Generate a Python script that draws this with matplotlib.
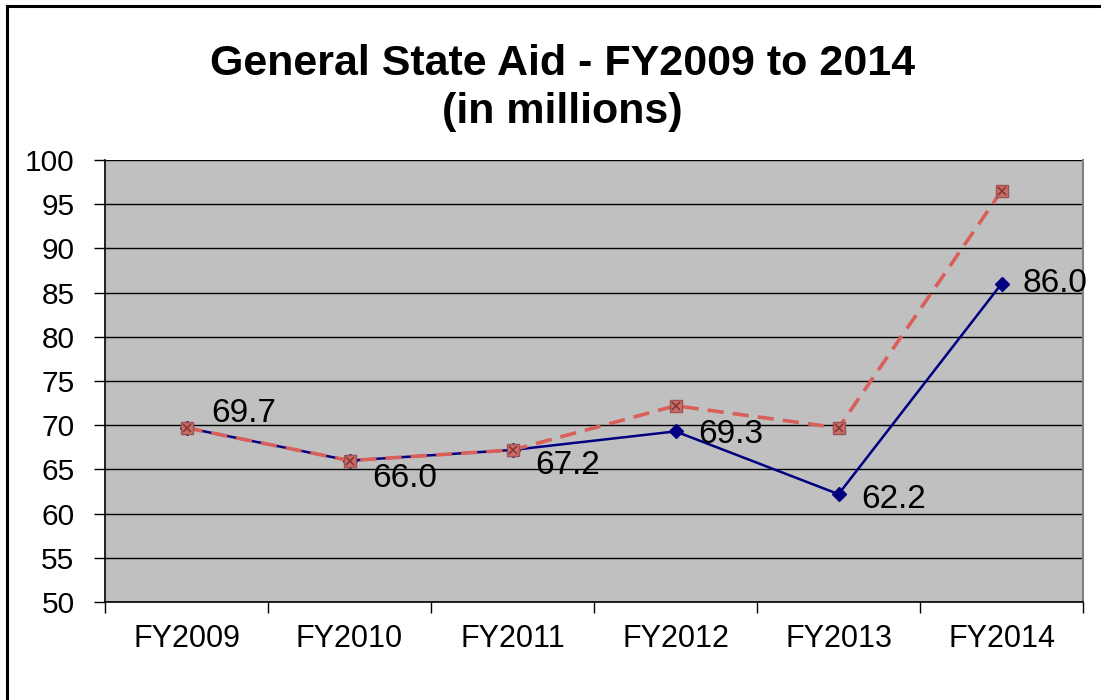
import matplotlib
matplotlib.use("Agg")
import matplotlib.pyplot as plt
from matplotlib.lines import Line2D
import numpy as np

plt.rcParams['font.family'] = ['Liberation Sans', 'DejaVu Sans']

years = ["FY2009", "FY2010", "FY2011", "FY2012", "FY2013", "FY2014"]
actual = [69.7, 66.0, 67.2, 69.3, 62.2, 86.0]
projected = [69.7, 66.0, 67.2, 72.2, 69.7, 96.5]

# label offsets (points) relative to each blue point
label_offsets = [(18, 10), (16, -13), (16, -11), (16, -2), (16, -4), (15, 0)]

fig = plt.figure(figsize=(11.01, 7.0), dpi=100)
ax = fig.add_axes([0.0954, 0.14, 0.8883, 0.6314])
ax.set_facecolor("#c0c0c0")

x = np.arange(len(years))
ax.plot(x, actual, color="#000080", lw=1.8, marker="D", ms=7.5,
        mfc="#000080", mec="#000080", zorder=3)
ax.plot(x, projected, color="#d9605a", lw=2.6, ls=(0, (4.5, 2.5)),
        marker="s", ms=8.5, mfc="#c8706a", mec="#a05050", zorder=4)
ax.plot(x, projected, ls="none", marker="x", ms=6, mew=1.2,
        color="#8a3535", zorder=5)

for xi, v, off in zip(x, actual, label_offsets):
    ax.annotate(f"{v:.1f}", (xi, v), xytext=off, textcoords="offset points",
                ha="left", va="center", fontsize=24, color="black", zorder=6)

ax.set_xlim(-0.5, len(years) - 0.5)
ax.set_ylim(50, 100)
ax.set_yticks(np.arange(50, 101, 5))
ax.yaxis.grid(True, color="black", lw=1.0)
ax.set_axisbelow(True)

ax.set_xticks(x)
ax.set_xticklabels(years)
ax.set_xticks(np.arange(-0.5, len(years), 1), minor=True)
ax.tick_params(axis="x", which="major", length=0, pad=16, labelsize=22)
ax.tick_params(axis="x", which="minor", length=8, width=1, direction="out")
ax.tick_params(axis="y", length=8, width=1, direction="out", labelsize=21.5, pad=14)

for side in ["left", "bottom"]:
    ax.spines[side].set_color("black")
    ax.spines[side].set_linewidth(1.2)
ax.spines["right"].set_color("#808080")
ax.spines["right"].set_linewidth(1.5)
ax.spines["top"].set_visible(False)

fig.text(0.511, 0.874, "General State Aid - FY2009 to 2014\n(in millions)",
         ha="center", va="center", fontsize=31, fontweight="bold",
         linespacing=1.25)

# outer chart frame
fig.add_artist(Line2D([0.006, 0.006], [0.0, 0.991], color="black", lw=2.2,
                      transform=fig.transFigure))
fig.add_artist(Line2D([0.006, 1.0], [0.991, 0.991], color="black", lw=2.2,
                      transform=fig.transFigure))

fig.savefig("out.png", dpi=100, facecolor="white")
